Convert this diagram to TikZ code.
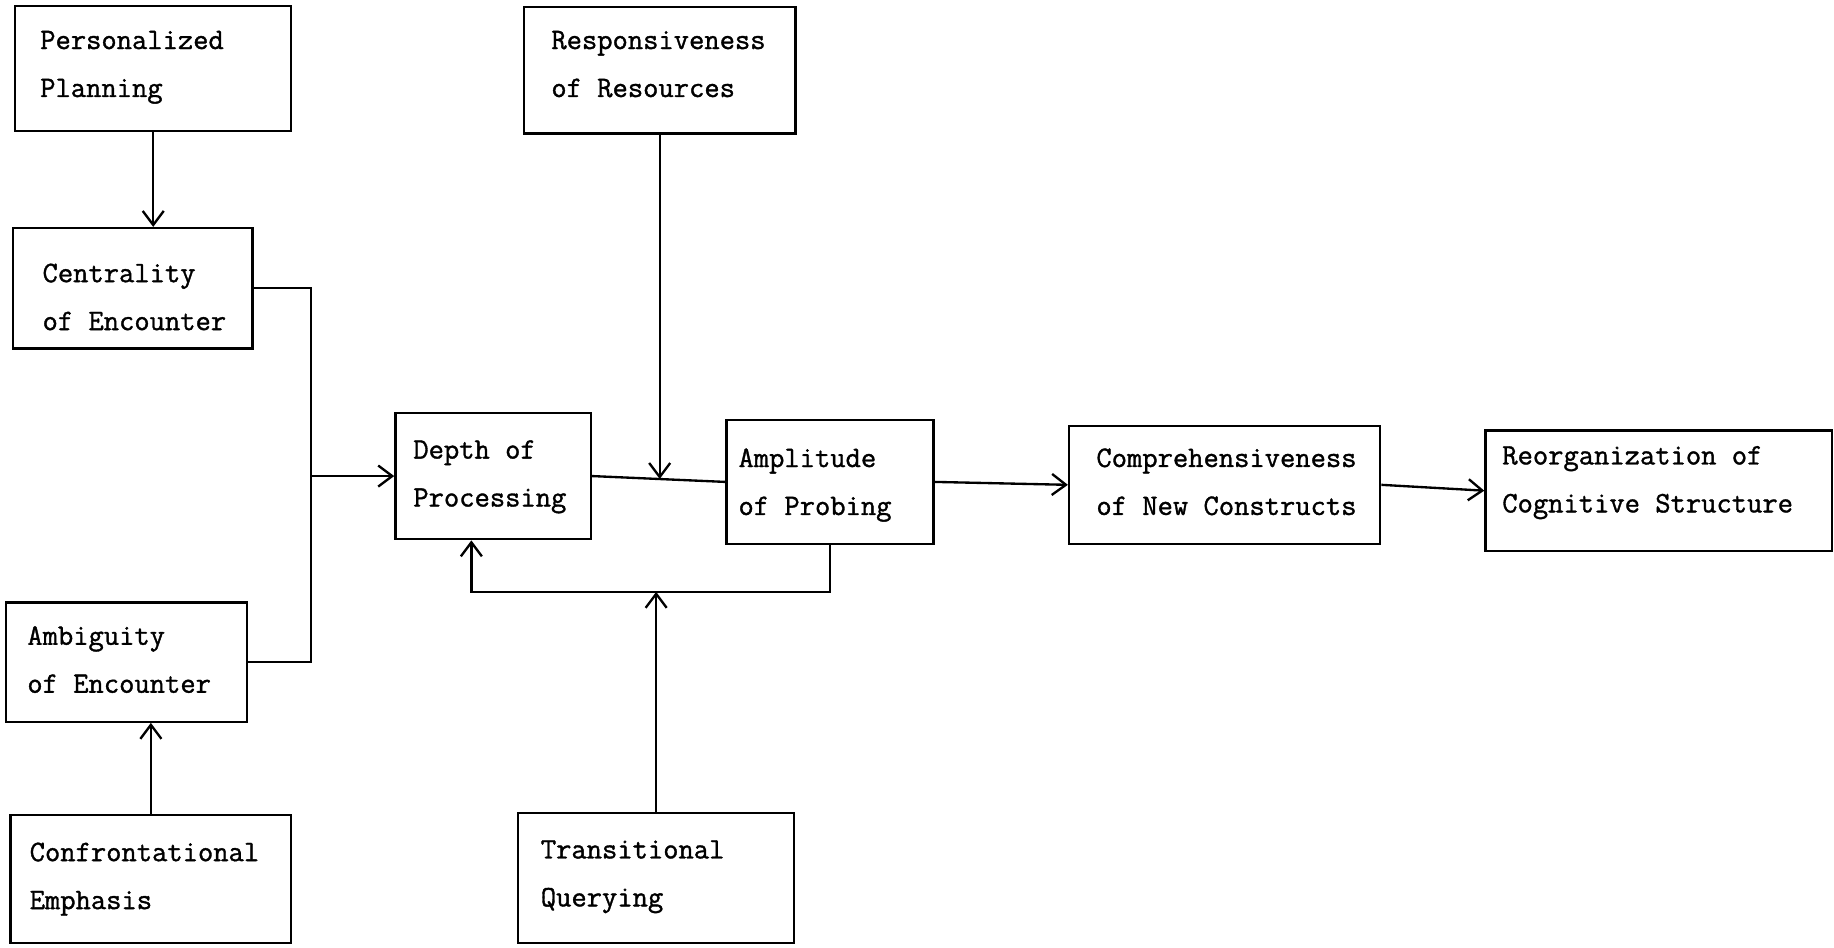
\documentclass[tikz,border=0pt]{standalone}
\usepackage{fontspec}
\newfontfamily\tw{Latin Modern Mono}[FakeBold=1.2]
\usetikzlibrary{arrows.meta}
\begin{document}
\begin{tikzpicture}[x=0.5pt,y=-0.5pt,
  box/.style={draw, line width=1pt, inner sep=0pt},
  lbl/.style={anchor=north west, inner sep=0pt, align=left, font={\tw\fontsize{12.7}{20.5}\selectfont}},
  conn/.style={line width=1pt},
  arr/.style={conn, -{Straight Barb[length=6pt,width=9pt,line width=1pt]}}]
\useasboundingbox (0,0) rectangle (1568,810);
% boxes
\node[box, minimum width=118pt, minimum height=53.5pt] (pp) at (131,58.5) {};
\node[box, minimum width=102.5pt, minimum height=51.5pt] (ce) at (113.5,246.5) {};
\node[box, minimum width=103pt, minimum height=51pt] (am) at (108,566) {};
\node[box, minimum width=120pt, minimum height=54.5pt] (co) at (129,751.5) {};
\node[box, minimum width=83.5pt, minimum height=54pt] (dp) at (421.5,407) {};
\node[box, minimum width=116pt, minimum height=54pt] (rr) at (564,60) {};
\node[box, minimum width=88.5pt, minimum height=53pt] (ap) at (709.5,412) {};
\node[box, minimum width=118pt, minimum height=55.5pt] (tq) at (561,750.5) {};
\node[box, minimum width=133pt, minimum height=50.5pt] (cn) at (1047,414.5) {};
\node[box, minimum width=148pt, minimum height=51.5pt] (rc) at (1418,419.5) {};
% texts
\node[lbl] (ppt) at (34,26) {Personalized\\Planning};
\node[lbl] (cet) at (36,225) {Centrality\\of Encounter};
\node[lbl] (amt) at (23,535) {Ambiguity\\of Encounter};
\node[lbl] (cot) at (25,720) {Confrontational\\Emphasis};
\node[lbl] (dpt) at (353,376) {Depth of\\Processing};
\node[lbl] (rrt) at (471,26) {Responsiveness\\of Resources};
\node[lbl] (apt) at (631,383) {Amplitude\\of Probing};
\node[lbl] (tqt) at (462,718) {Transitional\\Querying};
\node[lbl] (cnt) at (937,383) {Comprehensiveness\\of New Constructs};
\node[lbl] (rct) at (1284,381) {Reorganization of\\Cognitive Structure};
% junctions
\coordinate (j1) at (266,407);
\coordinate (j2) at (564,409.5);
\coordinate (fb) at (403,506);
\coordinate (j3) at (561,506);
% connectors
\draw[arr] (pp.south) -- (pp.south |- ce.north);
\draw[conn] (ce.east) -| (j1);
\draw[conn] (am.east) -| (j1);
\draw[arr] (j1) -- (dp.west);
\draw[conn] (dp.east) -- (ap.west);
\draw[arr] (rr.south) -- (j2);
\draw[arr] (ap.south) |- (fb) -- (fb |- dp.south);
\draw[arr] (tq.north) -- (j3);
\draw[arr] (ap.east) -- (cn.west);
\draw[arr] (cn.east) -- (rc.west);
\draw[arr] (co.north) -- (co.north |- am.south);
\end{tikzpicture}
\end{document}
